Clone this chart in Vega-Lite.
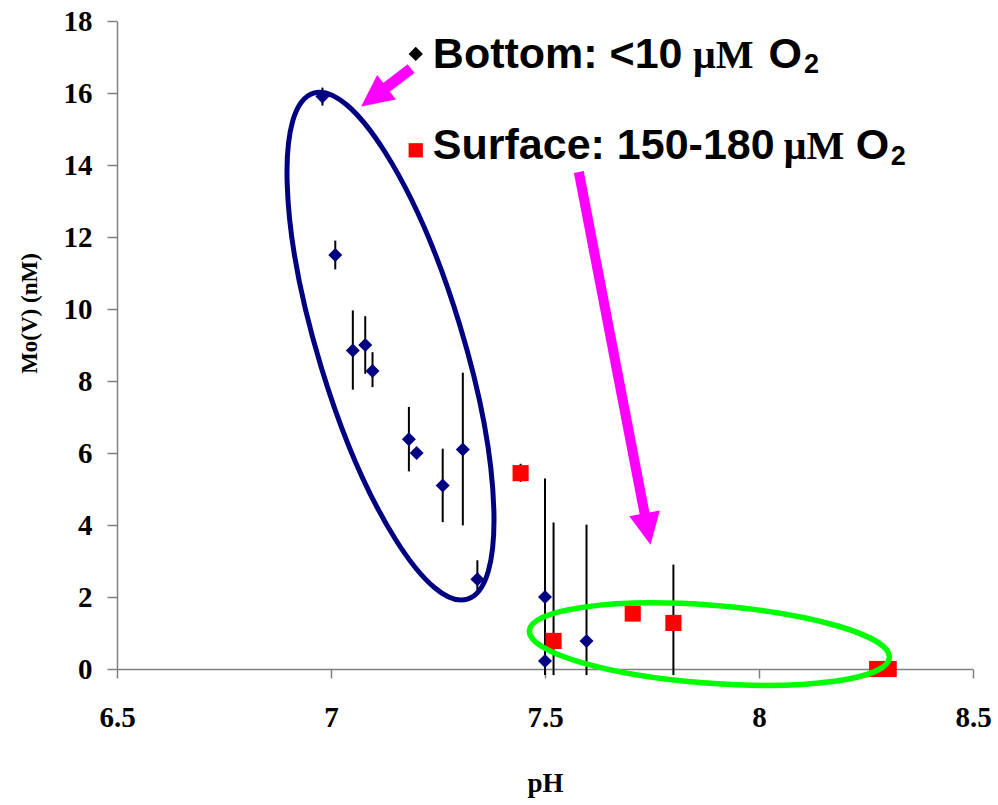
{
  "$schema": "https://vega.github.io/schema/vega-lite/v6.json",
  "width": 856,
  "height": 648,
  "autosize": {"type": "none"},
  "padding": {"left": 117, "top": 21, "right": 25, "bottom": 136},
  "background": "white",
  "config": {
    "view": {"stroke": null},
    "axis": {
      "grid": false,
      "domainColor": "#808080",
      "domainWidth": 1.5,
      "tickColor": "#808080",
      "tickWidth": 1.5,
      "tickSize": 10,
      "labelFont": "Liberation Serif",
      "labelFontWeight": "bold",
      "labelFontSize": 29,
      "labelColor": "black",
      "labelFlush": false,
      "labelOverlap": false,
      "titleFont": "Liberation Serif",
      "titleFontWeight": "bold",
      "titleColor": "black"
    },
    "axisX": {"labelPadding": 25, "tickSize": 9, "titleFontSize": 27, "titleY": 122, "titleBaseline": "alphabetic"},
    "axisY": {"labelPadding": 15, "titleFontSize": 23, "titleX": -81, "titleY": 292, "titleBaseline": "alphabetic"}
  },
  "datasets": {
    "bottom": [
      {"x": 6.98, "y": 15.9, "lo": 15.65, "hi": 16.15},
      {"x": 7.01, "y": 11.5, "lo": 11.1, "hi": 11.9},
      {"x": 7.051, "y": 8.85, "lo": 7.76, "hi": 9.96},
      {"x": 7.08, "y": 9.0, "lo": 8.2, "hi": 9.8},
      {"x": 7.097, "y": 8.28, "lo": 7.83, "hi": 8.8},
      {"x": 7.182, "y": 6.38, "lo": 5.49, "hi": 7.28},
      {"x": 7.2, "y": 6.0, "lo": 6.0, "hi": 6.0},
      {"x": 7.261, "y": 5.1, "lo": 4.08, "hi": 6.12},
      {"x": 7.308, "y": 6.1, "lo": 3.99, "hi": 8.23},
      {"x": 7.342, "y": 2.49, "lo": 2.19, "hi": 3.02},
      {"x": 7.5, "y": 2.0, "lo": -0.17, "hi": 5.29},
      {"x": 7.5, "y": 0.22, "lo": 0.22, "hi": 0.22},
      {"x": 7.597, "y": 0.78, "lo": -0.17, "hi": 4.01}
    ],
    "surface": [
      {"x": 7.443, "y": 5.44, "lo": 5.2, "hi": 5.7},
      {"x": 7.52, "y": 0.78, "lo": -0.17, "hi": 4.07},
      {"x": 7.705, "y": 1.54, "lo": 1.54, "hi": 1.54},
      {"x": 7.8, "y": 1.28, "lo": -0.17, "hi": 2.9},
      {"x": 8.276, "y": 0.0, "lo": 0.0, "hi": 0.0},
      {"x": 8.303, "y": 0.0, "lo": 0.0, "hi": 0.0}
    ],
    "keys": [
      {"series": "Bottom", "x": 7.198, "y": 17.086},
      {"series": "Surface", "x": 7.198, "y": 14.408}
    ],
    "legendText": [
      {"part": "sans", "x": 7.238, "y": 16.689, "label": "Bottom: <10"},
      {"part": "serif", "x": 7.846, "y": 16.689, "label": "μM"},
      {"part": "sans", "x": 8.022, "y": 16.689, "label": "O"},
      {"part": "sub", "x": 8.105, "y": 16.542, "label": "2"},
      {"part": "sans", "x": 7.238, "y": 14.161, "label": "Surface: 150-180"},
      {"part": "serif", "x": 8.058, "y": 14.161, "label": "μM"},
      {"part": "sans", "x": 8.226, "y": 14.161, "label": "O"},
      {"part": "sub", "x": 8.308, "y": 14.011, "label": "2"}
    ],
    "shafts": [
      {"id": "a1", "x": 7.187, "y": 16.678, "xEnd": 7.128, "yEnd": 16.144},
      {"id": "a2", "x": 7.579, "y": 13.806, "xEnd": 7.733, "yEnd": 4.297}
    ],
    "heads": [
      {"id": "a1", "x": 7.128, "y": 16.144},
      {"id": "a2", "x": 7.733, "y": 4.297}
    ],
    "ellipses": [
      {"id": "anoxic", "x": 7.139, "y": 8.969},
      {"id": "oxic", "x": 7.884, "y": 0.69}
    ]
  },
  "encoding": {
    "x": {"field": "x", "type": "quantitative", "title": "pH",
      "scale": {"domain": [6.5, 8.5], "nice": false, "zero": false},
      "axis": {"values": [6.5, 7, 7.5, 8, 8.5], "format": ".1~f"}},
    "y": {"field": "y", "type": "quantitative", "title": "Mo(V) (nM)",
      "scale": {"domain": [0, 18], "nice": false, "zero": false},
      "axis": {"values": [0, 2, 4, 6, 8, 10, 12, 14, 16, 18], "format": "d"}}
  },
  "layer": [
    {
      "data": {"name": "bottom"},
      "transform": [{"filter": "datum.hi > datum.lo"}],
      "mark": {"type": "rule", "color": "black", "strokeWidth": 2},
      "encoding": {
        "y": {"field": "lo", "type": "quantitative", "title": "Mo(V) (nM)",
          "scale": {"domain": [0, 18], "nice": false, "zero": false}},
        "y2": {"field": "hi"}
      }
    },
    {
      "data": {"name": "surface"},
      "transform": [{"filter": "datum.hi > datum.lo"}],
      "mark": {"type": "rule", "color": "black", "strokeWidth": 2},
      "encoding": {
        "y": {"field": "lo", "type": "quantitative", "title": "Mo(V) (nM)",
          "scale": {"domain": [0, 18], "nice": false, "zero": false}},
        "y2": {"field": "hi"}
      }
    },
    {
      "data": {"name": "bottom"},
      "mark": {"type": "point", "shape": "diamond", "filled": true, "color": "#000080", "opacity": 1, "size": 196}
    },
    {
      "data": {"name": "surface"},
      "mark": {"type": "point", "shape": "square", "filled": true, "color": "#FF0000", "opacity": 1, "size": 260}
    },
    {
      "data": {"name": "ellipses"},
      "transform": [{"filter": "datum.id == 'anoxic'"}],
      "mark": {"type": "point", "filled": false, "opacity": 1, "stroke": "#000080", "strokeWidth": 5, "size": 4, "angle": 73.1,
        "shape": "M264.5,0C264.5,40 146.1,72.4 0,72.4C-146.1,72.4 -264.5,40 -264.5,0C-264.5,-40 -146.1,-72.4 0,-72.4C146.1,-72.4 264.5,-40 264.5,0Z"}
    },
    {
      "data": {"name": "ellipses"},
      "transform": [{"filter": "datum.id == 'oxic'"}],
      "mark": {"type": "point", "filled": false, "opacity": 1, "stroke": "#00FF00", "strokeWidth": 5.5, "size": 4, "angle": 4.3,
        "shape": "M180.5,0C180.5,21.5 99.7,39 0,39C-99.7,39 -180.5,21.5 -180.5,0C-180.5,-21.5 -99.7,-39 0,-39C99.7,-39 180.5,-21.5 180.5,0Z"}
    },
    {
      "data": {"name": "shafts"},
      "transform": [{"filter": "datum.id == 'a1'"}],
      "mark": {"type": "rule", "color": "#FF00FF", "strokeWidth": 11, "strokeCap": "butt"},
      "encoding": {"x2": {"field": "xEnd"}, "y2": {"field": "yEnd"}}
    },
    {
      "data": {"name": "shafts"},
      "transform": [{"filter": "datum.id == 'a2'"}],
      "mark": {"type": "rule", "color": "#FF00FF", "strokeWidth": 10, "strokeCap": "butt"},
      "encoding": {"x2": {"field": "xEnd"}, "y2": {"field": "yEnd"}}
    },
    {
      "data": {"name": "heads"},
      "transform": [{"filter": "datum.id == 'a1'"}],
      "mark": {"type": "point", "filled": true, "color": "#FF00FF", "opacity": 1, "size": 4, "angle": 232.7,
        "shape": "M0,-31L-15.5,1L15.5,1Z"}
    },
    {
      "data": {"name": "heads"},
      "transform": [{"filter": "datum.id == 'a2'"}],
      "mark": {"type": "point", "filled": true, "color": "#FF00FF", "opacity": 1, "size": 4, "angle": 169.2,
        "shape": "M0,-31L-15.5,1L15.5,1Z"}
    },
    {
      "data": {"name": "keys"},
      "transform": [{"filter": "datum.series == 'Bottom'"}],
      "mark": {"type": "point", "shape": "diamond", "filled": true, "color": "black", "opacity": 1, "size": 204}
    },
    {
      "data": {"name": "keys"},
      "transform": [{"filter": "datum.series == 'Surface'"}],
      "mark": {"type": "point", "shape": "square", "filled": true, "color": "#FF0000", "opacity": 1, "size": 204}
    },
    {
      "data": {"name": "legendText"},
      "transform": [{"filter": "datum.part == 'sans'"}],
      "mark": {"type": "text", "font": "Liberation Sans", "fontWeight": "bold", "fontSize": 43, "align": "left", "baseline": "alphabetic", "color": "black"},
      "encoding": {"text": {"field": "label"}}
    },
    {
      "data": {"name": "legendText"},
      "transform": [{"filter": "datum.part == 'serif'"}],
      "mark": {"type": "text", "font": "Liberation Serif", "fontWeight": "bold", "fontSize": 40, "align": "left", "baseline": "alphabetic", "color": "black"},
      "encoding": {"text": {"field": "label"}}
    },
    {
      "data": {"name": "legendText"},
      "transform": [{"filter": "datum.part == 'sub'"}],
      "mark": {"type": "text", "font": "Liberation Sans", "fontWeight": "bold", "fontSize": 27, "align": "left", "baseline": "alphabetic", "color": "black"},
      "encoding": {"text": {"field": "label"}}
    }
  ]
}
